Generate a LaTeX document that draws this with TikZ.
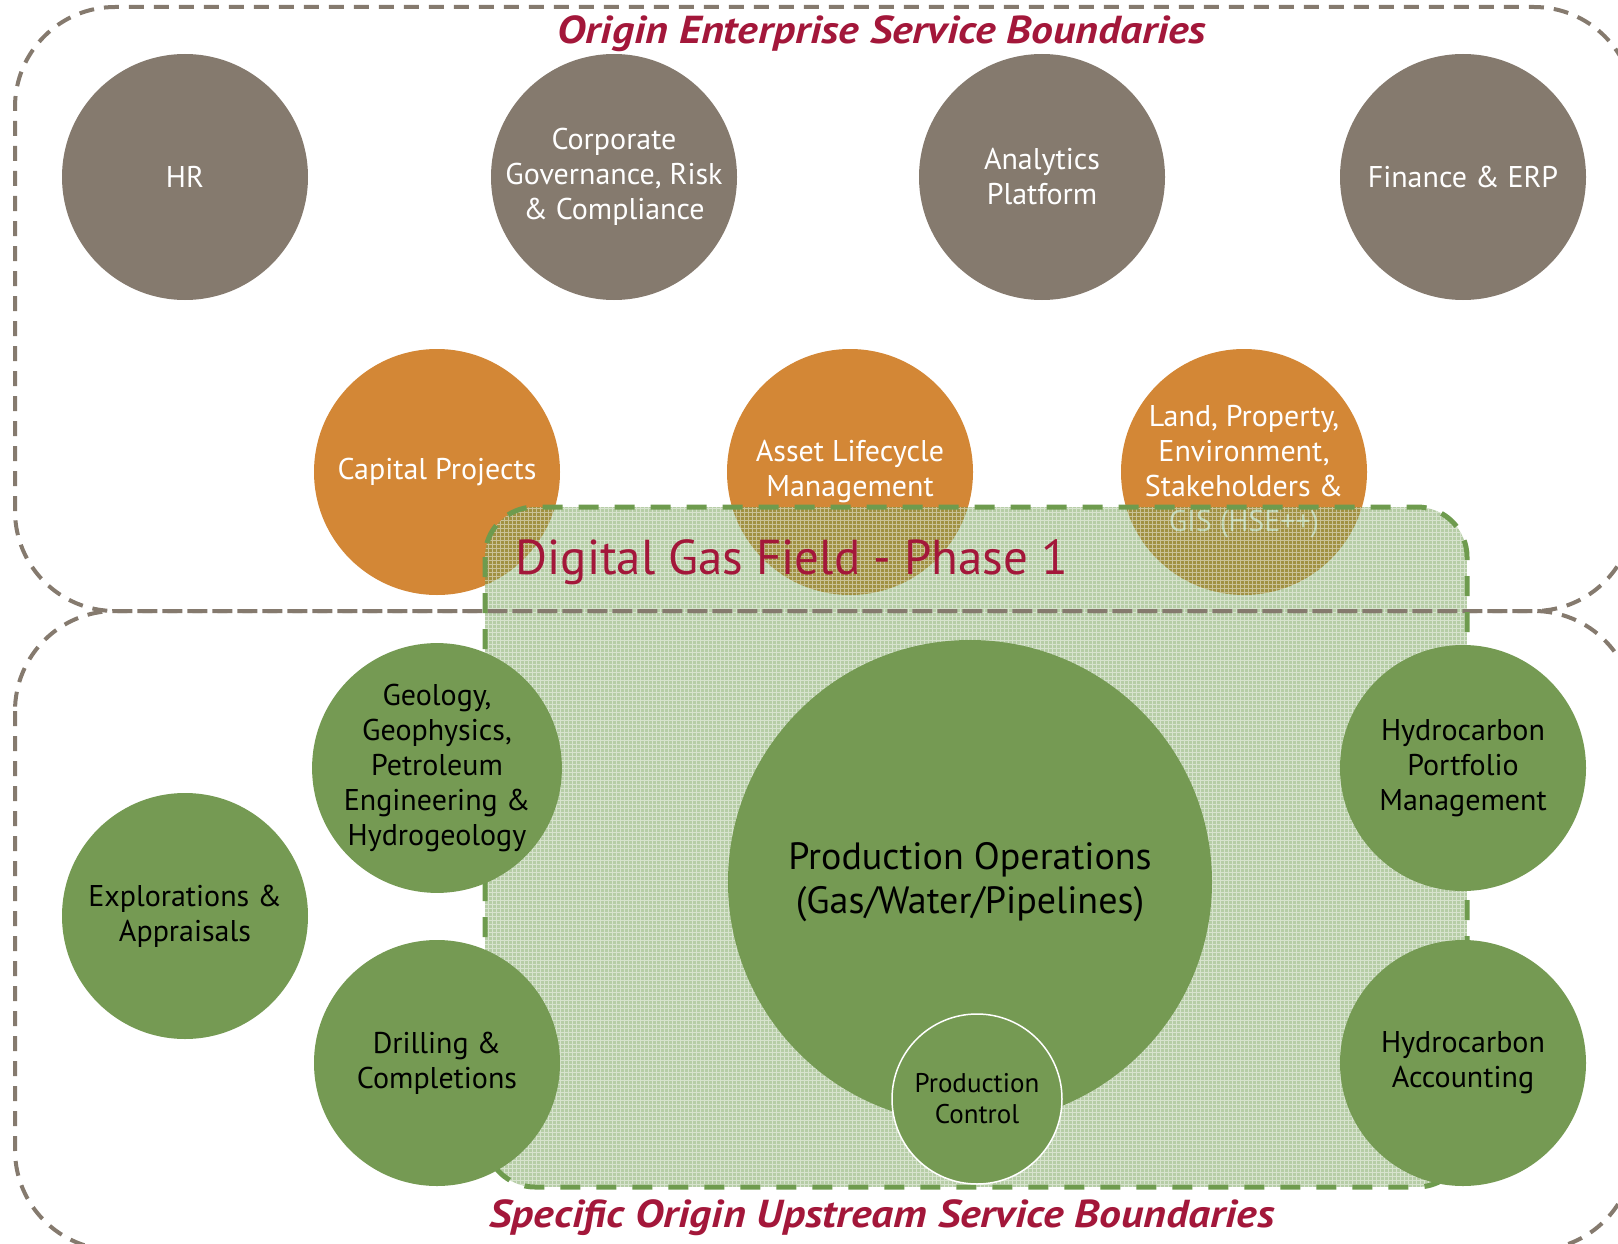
\documentclass[tikz,border=0pt]{standalone}
\usepackage{fontspec}
\setmainfont{PT Sans}
\newfontfamily\headfont[FakeStretch=1.12]{PT Sans}

\begin{document}
\begin{tikzpicture}[x=1pt, y=-1pt,
  svc/.style={circle, minimum size=246pt, inner sep=0pt, align=center,
    font=\fontsize{30}{35}\selectfont},
  corpSvc/.style={svc, fill=svcGrey, text=white},
  projSvc/.style={svc, fill=svcOrange, text=white},
  upSvc/.style={svc, fill=svcGreen, text=black},
  boundary/.style={draw=svcGrey, line width=4pt, dash pattern=on 15pt off 10pt,
    rounded corners=100pt},
  heading/.style={text=hdRed, font=\headfont\fontsize{39}{46}\selectfont\bfseries\itshape}]

\definecolor{svcGrey}{HTML}{857A6E}
\definecolor{svcOrange}{HTML}{D38736}
\definecolor{svcGreen}{HTML}{759A53}
\definecolor{dgfGreen}{HTML}{6E9B4E}
\definecolor{hdRed}{HTML}{A3173A}

\clip (0,0) rectangle (1618,1244);

% ===== enterprise services (top row) =====
\node[corpSvc] (hr)        at (185,177)  {HR};
\node[corpSvc] (grc)       at (614,177)  {Corporate\\Governance, Risk\\\& Compliance};
\node[corpSvc] (analytics) at (1042,177) {Analytics\\Platform};
\node[corpSvc] (finance)   at (1463,177) {Finance \& ERP};

% ===== shared project services =====
\node[projSvc] (capital) at (437,472)  {Capital Projects};
\node[projSvc] (asset)   at (850,472)  {Asset Lifecycle\\Management};
\node[projSvc] (land)    at (1244,472) {Land, Property,\\Environment,\\Stakeholders \&\\GIS (HSE++)};

% ===== digital gas field area (hatched, see-through) =====
\begin{scope}
  \clip[rounded corners=50pt] (485,507) rectangle (1467,1187);
  \fill[dgfGreen, fill opacity=0.5] (485,507) rectangle (1467,1187);
  \draw[white, line width=0.7pt, opacity=0.45, step=4pt] (485,507) grid (1467,1187);
\end{scope}

% ===== service boundaries =====
\draw[boundary] (15,611) rectangle (1634,7);
\draw[boundary] (15,611) rectangle (1634,1250);

\draw[dgfGreen, line width=5pt, dash pattern=on 20pt off 16pt, rounded corners=50pt]
  (485,507) rectangle (1467,1187);
\node[anchor=west, text=hdRed, font=\fontsize{49}{58}\selectfont] (dgf) at (512,562)
  {Digital Gas Field - Phase 1};

% ===== upstream services =====
\node[upSvc] (geo)        at (437,768)  {Geology,\\Geophysics,\\Petroleum\\Engineering \&\\Hydrogeology};
\node[upSvc] (explor)     at (185,916)  {Explorations \&\\Appraisals};
\node[upSvc] (drilling)   at (437,1063) {Drilling \&\\Completions};
\node[upSvc] (portfolio)  at (1463,768)  {Hydrocarbon\\Portfolio\\Management};
\node[upSvc] (accounting) at (1463,1063) {Hydrocarbon\\Accounting};

\node[upSvc, minimum size=484pt, font=\fontsize{38}{44}\selectfont] (prodops) at (970,882)
  {Production Operations\\(Gas/Water/Pipelines)};
\node[upSvc, minimum size=170pt, draw=white, line width=1.5pt, font=\fontsize{27}{31}\selectfont]
  (prodctrl) at (977,1099) {Production\\Control};

% ===== boundary titles =====
\node[heading] (enterprise) at (882,34)   {Origin Enterprise Service Boundaries};
\node[heading] (upstream)   at (882,1218) {Specific Origin Upstream Service Boundaries};

\end{tikzpicture}
\end{document}
